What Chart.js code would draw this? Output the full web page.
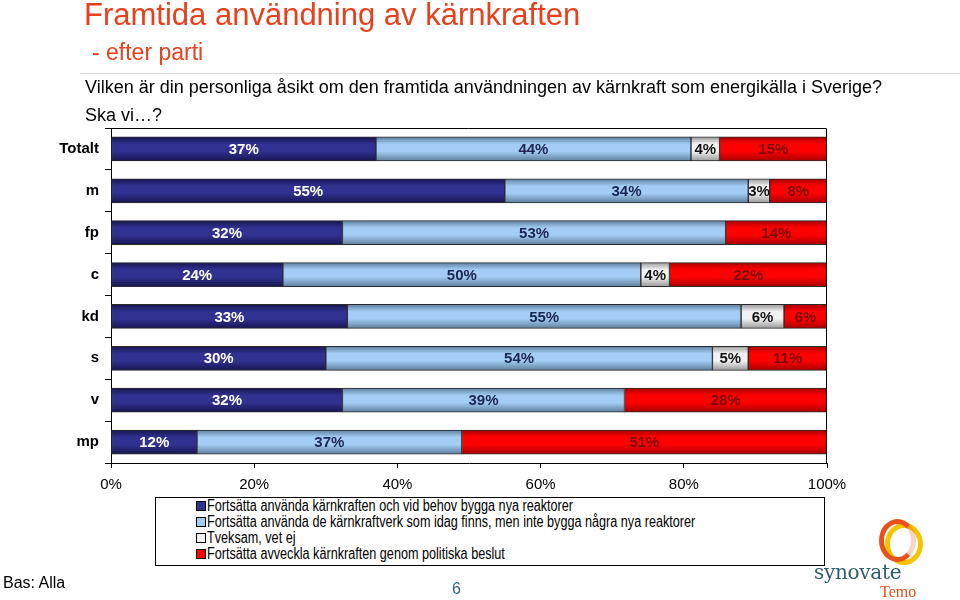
<!DOCTYPE html>
<html>
<head>
<meta charset="utf-8">
<script src="https://cdn.jsdelivr.net/npm/chart.js@4/dist/chart.umd.min.js"></script>
<style>
  html, body { margin: 0; padding: 0; background: #fff; }
  body { width: 960px; height: 600px; position: relative; overflow: hidden; font-family: "Liberation Sans", Arial, sans-serif; }
  #wrap { position: absolute; left: 0; top: 0; width: 960px; height: 600px; }
  .abs { position: absolute; white-space: nowrap; }
  #title { left: 84px; top: -3px; font-size: 31px; line-height: 36px; color: #E8401C; }
  #sub { left: 92px; top: 38px; font-size: 23px; line-height: 28px; color: #E8401C; }
  #sep { left: 80px; top: 73px; width: 880px; height: 1px; background: #d8d8d8; }
  #q { left: 85px; top: 73px; font-size: 18px; color: #000; line-height: 28px; }
  #legend { left: 155px; top: 497px; width: 668px; height: 67px; border: 1px solid #000; background: #fff;
            font-family: "Liberation Sans", Arial, sans-serif; font-size: 16px; line-height: 16px; }
  .li { position: relative; height: 16px; }
  .tx { position: absolute; left: 51px; top: 0; transform: scaleX(0.79); transform-origin: 0 0; }
  .sw { position: absolute; left: 40px; top: 3px; width: 8px; height: 8px; border: 1px solid #000; }
  #bas { left: 3px; top: 574px; font-size: 16px; color: #000; }
  #page { left: 452px; top: 580px; font-size: 16px; color: #2E6B80; }
  #syn { left: 814px; top: 560px; font-family: "DejaVu Serif", "Liberation Serif", serif; font-size: 20px; color: #2D5E6E; letter-spacing: -0.3px; }
  #temo { left: 880px; top: 583px; font-family: "Liberation Serif", serif; font-size: 16px; color: #E0501E; }
  .ring { position: absolute; border-radius: 50%; }
</style>
</head>
<body>
<div id="wrap"><canvas id="c" width="960" height="600"></canvas></div>
<div class="abs" id="title">Framtida användning av kärnkraften</div>
<div class="abs" id="sub">- efter parti</div>
<div class="abs" id="sep"></div>
<div class="abs" id="q">Vilken är din personliga åsikt om den framtida användningen av kärnkraft som energikälla i Sverige?<br>Ska vi…?</div>
<div class="abs" id="legend"></div>
<div class="abs" id="bas">Bas: Alla</div>
<div class="abs" id="page">6</div>
<div class="ring" style="left:885px;top:523px;width:28px;height:32px;border:5px solid #F5C400;"></div>
<div class="ring" style="left:879px;top:519px;width:27px;height:33px;border:5px solid #E8501C;border-right-color:rgba(232,80,28,0.25);"></div>
<div class="abs" id="syn">synovate</div>
<div class="abs" id="temo">Temo</div>
<script>
const categories = ['Totalt', 'm', 'fp', 'c', 'kd', 's', 'v', 'mp'];
const seriesNames = [
  'Fortsätta använda kärnkraften och vid behov bygga nya reaktorer',
  'Fortsätta använda de kärnkraftverk som idag finns, men inte bygga några nya reaktorer',
  'Tveksam, vet ej',
  'Fortsätta avveckla kärnkraften genom politiska beslut'
];
const keepAndBuild = [37, 55, 32, 24, 33, 30, 32, 12];
const keepNoNew    = [44, 34, 53, 50, 55, 54, 39, 37];
const unsure       = [4, 3, 0, 4, 6, 5, 0, 0];
const phaseOut     = [15, 8, 14, 22, 6, 11, 28, 51];
const xTicks = [0, 20, 40, 60, 80, 100];

const baseColors  = ['#313192', '#A3CDF4', '#F2F2F2', '#FF0000'];
const edgeColors  = ['#16164F', '#5F7F9E', '#9A9A9A', '#A80000'];
const labelColors = ['#FFFFFF', '#1C2450', '#111111', '#7A0A0A'];
const seriesValues = [keepAndBuild, keepNoNew, unsure, phaseOut];

// 100% stacked: each category is scaled to its own total
const totals = categories.map((_, j) => seriesValues.reduce((s, arr) => s + arr[j], 0));

// legend
const leg = document.getElementById('legend');
seriesNames.forEach((n, i) => {
  const d = document.createElement('div');
  d.className = 'li';
  d.innerHTML = '<span class="sw" style="background:' + baseColors[i] + '"></span><span class="tx">' + n + '</span>';
  leg.appendChild(d);
});

function grad(i) {
  return function (ctx) {
    const chart = ctx.chart;
    if (!chart.chartArea || ctx.type !== 'data') return baseColors[i];
    const y = chart.scales.y.getPixelForValue(ctx.dataIndex);
    const g = chart.ctx.createLinearGradient(0, y - 12, 0, y + 12);
    g.addColorStop(0, edgeColors[i]);
    g.addColorStop(0.3, baseColors[i]);
    g.addColorStop(0.6, baseColors[i]);
    g.addColorStop(1, edgeColors[i]);
    return g;
  };
}

const datasets = seriesValues.map((vals, i) => ({
  label: seriesNames[i],
  data: vals.map((v, j) => v / totals[j] * 100),
  raw: vals,
  backgroundColor: grad(i),
  borderColor: '#2a2a2a',
  borderWidth: (ctx) => (ctx.raw === 0 ? 0 : 1),
  borderSkipped: false,
  barThickness: 24
}));

const labelPlugin = {
  id: 'barLabels',
  afterDatasetsDraw(chart) {
    const c = chart.ctx;
    c.save();
    c.font = 'bold 15px "Liberation Sans", Arial, sans-serif';
    c.textAlign = 'center';
    c.textBaseline = 'middle';
    chart.data.datasets.forEach((ds, i) => {
      const meta = chart.getDatasetMeta(i);
      meta.data.forEach((el, j) => {
        const v = ds.raw[j];
        if (!v) return;
        c.fillStyle = labelColors[i];
        c.fillText(v + '%', (el.x + el.base) / 2, el.y + 1);
      });
    });
    c.restore();
  }
};

const framePlugin = {
  id: 'frame',
  afterDraw(chart) {
    const a = chart.chartArea, c = chart.ctx;
    c.save();
    c.strokeStyle = '#000';
    c.lineWidth = 1;
    c.beginPath();
    c.moveTo(a.left, a.top + 0.5);
    c.lineTo(a.right - 0.5, a.top + 0.5);
    c.lineTo(a.right - 0.5, a.bottom);
    c.stroke();
    c.restore();
  }
};

new Chart(document.getElementById('c'), {
  type: 'bar',
  data: { labels: categories, datasets },
  options: {
    indexAxis: 'y',
    responsive: false,
    animation: false,
    layout: { padding: { left: 0, top: 128, right: 133, bottom: 107 } },
    plugins: { legend: { display: false }, tooltip: { enabled: false } },
    scales: {
      x: {
        stacked: true,
        min: 0, max: 100,
        afterBuildTicks: (s) => { s.ticks = xTicks.map(v => ({ value: v })); },
        afterFit: (s) => { s.height = 30; },
        ticks: {
          callback: (v) => v + '%',
          color: '#000',
          font: { family: '"Liberation Sans", Arial, sans-serif', size: 15 },
          padding: 8,
          maxRotation: 0
        },
        grid: { drawOnChartArea: false, drawTicks: true, tickLength: 5, color: '#000' },
        border: { display: true, color: '#000', width: 1 }
      },
      y: {
        stacked: true,
        afterFit: (s) => { s.width = 111; },
        ticks: {
          color: '#000',
          font: { family: '"Liberation Sans", Arial, sans-serif', size: 15, weight: 'bold' },
          padding: 6
        },
        grid: { drawOnChartArea: false, drawTicks: true, tickLength: 6, color: '#000', offset: true },
        border: { display: true, color: '#000', width: 1 }
      }
    }
  },
  plugins: [labelPlugin, framePlugin]
});
</script>
</body>
</html>
